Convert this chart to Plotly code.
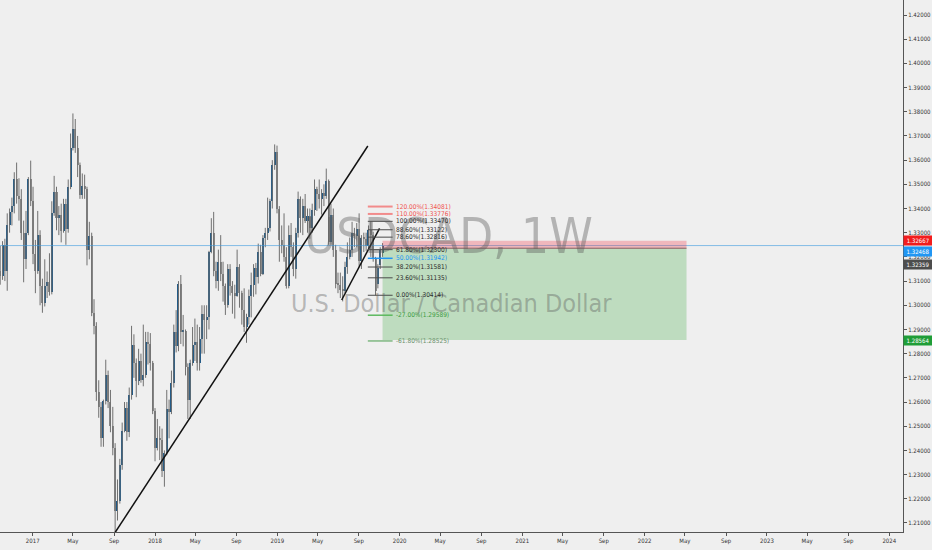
import plotly.graph_objects as go
import pandas as pd

# ---------------- data (weekly USDCAD) ----------------
first_week = "2016-09-19"

opens = [1.3220, 1.3140, 1.3120, 1.3250, 1.3140, 1.3330, 1.3385, 1.3410, 1.3520, 1.3450,
         1.3440, 1.3300, 1.3190, 1.3300, 1.3520, 1.3430, 1.3210, 1.3140, 1.3290, 1.3080,
         1.3010, 1.3080, 1.3095, 1.3055, 1.3380, 1.3470, 1.3360, 1.3375, 1.3305, 1.3420,
         1.3315, 1.3490, 1.3650, 1.3730, 1.3650, 1.3580, 1.3455, 1.3495, 1.3480, 1.3230,
         1.3285, 1.2970, 1.2915, 1.2640, 1.2580, 1.2450, 1.2605, 1.2710, 1.2600, 1.2500,
         1.2410, 1.2150, 1.2190, 1.2340, 1.2480, 1.2575, 1.2475, 1.2630, 1.2835, 1.2760,
         1.2685, 1.2770, 1.2690, 1.2710, 1.2850, 1.2840, 1.2760, 1.2565, 1.2410, 1.2450,
         1.2445, 1.2315, 1.2390, 1.2570, 1.2560, 1.2680, 1.2890, 1.2830, 1.3090, 1.2890,
         1.2895, 1.2745, 1.2610, 1.2760, 1.2835, 1.2850, 1.2760, 1.2860, 1.2965, 1.2940,
         1.2950, 1.3220, 1.3300, 1.3140, 1.3100, 1.3180, 1.3130, 1.3080, 1.3000, 1.3150,
         1.3080, 1.3050, 1.3040, 1.3160, 1.3050, 1.2980, 1.2910, 1.2950, 1.3040, 1.3085,
         1.3155, 1.3115, 1.3220, 1.3130, 1.3280, 1.3300, 1.3320, 1.3430, 1.3580, 1.3635,
         1.3400, 1.3270, 1.3250, 1.3200, 1.3080, 1.3290, 1.3240, 1.3150, 1.3300, 1.3440,
         1.3360, 1.3410, 1.3350, 1.3370, 1.3320, 1.3395, 1.3480, 1.3460, 1.3440, 1.3465,
         1.3450, 1.3515, 1.3260, 1.3375, 1.3230, 1.3090, 1.3085, 1.3065, 1.3060, 1.3160,
         1.3200, 1.3230, 1.3300, 1.3285, 1.3315, 1.3185, 1.3280, 1.3275, 1.3245, 1.3310,
         1.3290, 1.3190, 1.3088, 1.3166, 1.3216]

highs = [1.3260, 1.3245, 1.3265, 1.3275, 1.3380, 1.3400, 1.3445, 1.3550, 1.3590, 1.3525,
         1.3480, 1.3350, 1.3390, 1.3530, 1.3598, 1.3490, 1.3270, 1.3390, 1.3310, 1.3110,
         1.3190, 1.3140, 1.3215, 1.3430, 1.3535, 1.3490, 1.3410, 1.3420, 1.3440, 1.3440,
         1.3520, 1.3710, 1.3793, 1.3770, 1.3700, 1.3590, 1.3545, 1.3540, 1.3490, 1.3345,
         1.3300, 1.3025, 1.2930, 1.2690, 1.2600, 1.2610, 1.2775, 1.2730, 1.2650, 1.2580,
         1.2430, 1.2280, 1.2365, 1.2515, 1.2600, 1.2600, 1.2660, 1.2915, 1.2880, 1.2780,
         1.2820, 1.2800, 1.2920, 1.2890, 1.2890, 1.2885, 1.2770, 1.2575, 1.2530, 1.2500,
         1.2490, 1.2400, 1.2650, 1.2610, 1.2730, 1.2920, 1.2980, 1.3100, 1.3125, 1.2960,
         1.2900, 1.2760, 1.2775, 1.2910, 1.2945, 1.2920, 1.2910, 1.3000, 1.3000, 1.3000,
         1.3225, 1.3360, 1.3386, 1.3180, 1.3230, 1.3290, 1.3180, 1.3090, 1.3170, 1.3170,
         1.3100, 1.3085, 1.3230, 1.3170, 1.3060, 1.3070, 1.2965, 1.3065, 1.3135, 1.3170,
         1.3175, 1.3255, 1.3250, 1.3290, 1.3320, 1.3445, 1.3440, 1.3600, 1.3665, 1.3660,
         1.3410, 1.3330, 1.3380, 1.3240, 1.3330, 1.3340, 1.3260, 1.3320, 1.3470, 1.3450,
         1.3440, 1.3460, 1.3400, 1.3400, 1.3420, 1.3520, 1.3490, 1.3520, 1.3480, 1.3500,
         1.3565, 1.3520, 1.3420, 1.3400, 1.3250, 1.3135, 1.3135, 1.3120, 1.3180, 1.3260,
         1.3280, 1.3345, 1.3320, 1.3340, 1.3380, 1.3290, 1.3300, 1.3300, 1.3330, 1.3347,
         1.3304, 1.3200, 1.3170, 1.3240, 1.3257]

lows = [1.3120, 1.3085, 1.3105, 1.3100, 1.3060, 1.3300, 1.3330, 1.3380, 1.3420, 1.3350,
        1.3270, 1.3095, 1.3150, 1.3290, 1.3410, 1.3170, 1.3050, 1.3130, 1.3000, 1.2969,
        1.2995, 1.3030, 1.3040, 1.3045, 1.3370, 1.3310, 1.3290, 1.3260, 1.3300, 1.3250,
        1.3300, 1.3480, 1.3640, 1.3630, 1.3530, 1.3440, 1.3440, 1.3440, 1.3165, 1.3190,
        1.2955, 1.2880, 1.2605, 1.2535, 1.2415, 1.2415, 1.2590, 1.2575, 1.2475, 1.2380,
        1.2061, 1.2110, 1.2180, 1.2320, 1.2475, 1.2440, 1.2455, 1.2610, 1.2700, 1.2620,
        1.2670, 1.2680, 1.2665, 1.2700, 1.2755, 1.2730, 1.2550, 1.2355, 1.2400, 1.2360,
        1.2290, 1.2250, 1.2380, 1.2450, 1.2550, 1.2660, 1.2805, 1.2810, 1.2840, 1.2830,
        1.2710, 1.2530, 1.2530, 1.2750, 1.2770, 1.2730, 1.2730, 1.2800, 1.2800, 1.2860,
        1.2900, 1.3215, 1.3120, 1.3070, 1.3060, 1.3100, 1.3015, 1.2960, 1.2990, 1.3040,
        1.2965, 1.2945, 1.3035, 1.2990, 1.2920, 1.2890, 1.2845, 1.2920, 1.2950, 1.3035,
        1.3045, 1.3090, 1.3120, 1.3125, 1.3240, 1.3270, 1.3305, 1.3400, 1.3560, 1.3380,
        1.3180, 1.3215, 1.3180, 1.3069, 1.3070, 1.3200, 1.3120, 1.3110, 1.3280, 1.3300,
        1.3290, 1.3340, 1.3300, 1.3275, 1.3300, 1.3370, 1.3390, 1.3400, 1.3375, 1.3410,
        1.3440, 1.3250, 1.3250, 1.3200, 1.3070, 1.3050, 1.3030, 1.3016, 1.3050, 1.3130,
        1.3190, 1.3200, 1.3240, 1.3240, 1.3160, 1.3150, 1.3220, 1.3225, 1.3235, 1.3200,
        1.3180, 1.3041, 1.3070, 1.3150, 1.3200]

closes = [1.3140, 1.3120, 1.3250, 1.3140, 1.3330, 1.3385, 1.3410, 1.3520, 1.3450, 1.3440,
          1.3300, 1.3190, 1.3300, 1.3520, 1.3430, 1.3210, 1.3140, 1.3290, 1.3080, 1.3010,
          1.3080, 1.3095, 1.3055, 1.3380, 1.3470, 1.3360, 1.3375, 1.3305, 1.3420, 1.3315,
          1.3490, 1.3650, 1.3730, 1.3650, 1.3580, 1.3455, 1.3495, 1.3480, 1.3230, 1.3285,
          1.2970, 1.2915, 1.2640, 1.2580, 1.2450, 1.2605, 1.2710, 1.2600, 1.2500, 1.2410,
          1.2150, 1.2190, 1.2340, 1.2480, 1.2575, 1.2475, 1.2630, 1.2835, 1.2760, 1.2685,
          1.2770, 1.2690, 1.2710, 1.2850, 1.2840, 1.2760, 1.2565, 1.2410, 1.2450, 1.2445,
          1.2315, 1.2390, 1.2570, 1.2560, 1.2680, 1.2890, 1.2830, 1.3090, 1.2890, 1.2895,
          1.2745, 1.2610, 1.2760, 1.2835, 1.2850, 1.2760, 1.2860, 1.2965, 1.2940, 1.2950,
          1.3220, 1.3300, 1.3140, 1.3100, 1.3180, 1.3130, 1.3080, 1.3000, 1.3150, 1.3080,
          1.3050, 1.3040, 1.3160, 1.3050, 1.2980, 1.2910, 1.2950, 1.3040, 1.3085, 1.3155,
          1.3115, 1.3220, 1.3130, 1.3280, 1.3300, 1.3320, 1.3430, 1.3580, 1.3635, 1.3400,
          1.3270, 1.3250, 1.3200, 1.3080, 1.3290, 1.3240, 1.3150, 1.3300, 1.3440, 1.3360,
          1.3410, 1.3350, 1.3370, 1.3320, 1.3395, 1.3480, 1.3460, 1.3440, 1.3465, 1.3450,
          1.3515, 1.3260, 1.3375, 1.3230, 1.3090, 1.3085, 1.3065, 1.3060, 1.3160, 1.3200,
          1.3230, 1.3300, 1.3285, 1.3315, 1.3185, 1.3280, 1.3275, 1.3245, 1.3310, 1.3290,
          1.3190, 1.3060, 1.3154, 1.3229, 1.3247]

# x-axis tick labels
tick_dates = ["2017-01-01", "2017-05-01", "2017-09-01", "2018-01-01", "2018-05-01", "2018-09-01",
              "2019-01-01", "2019-05-01", "2019-09-01", "2020-01-01", "2020-05-01", "2020-09-01",
              "2021-01-01", "2021-05-01", "2021-09-01", "2022-01-01", "2022-05-01", "2022-09-01",
              "2023-01-01", "2023-05-01", "2023-09-01", "2024-01-01"]
tick_labels = ["2017", "May", "Sep", "2018", "May", "Sep", "2019", "May", "Sep", "2020", "May", "Sep",
               "2021", "May", "Sep", "2022", "May", "Sep", "2023", "May", "Sep", "2024"]

# fibonacci extension drawing
fib_ratios = [1.20, 1.10, 1.00, 0.886, 0.786, 0.618, 0.50, 0.382, 0.236, 0.0, -0.27, -0.618]
fib_values = [1.34081, 1.33776, 1.33470, 1.33122, 1.32816, 1.32300, 1.31942, 1.31581, 1.31135,
              1.30414, 1.29589, 1.28525]
fib_colors = ["#f28b8b", "#f28b8b", "#4a4a4a", "#4a4a4a", "#4a4a4a", "#4a4a4a", "#2196f3",
              "#4a4a4a", "#4a4a4a", "#4a4a4a", "#5cb85f", "#7fb882"]
fib_text_colors = ["#ef5350", "#ef5350", "#2a2a2a", "#2a2a2a", "#2a2a2a", "#2a2a2a", "#2196f3",
                   "#2a2a2a", "#2a2a2a", "#2a2a2a", "#3d9b41", "#6a8f6c"]
fib_x = ["2019-09-28", "2019-12-11"]

# trend lines (start date, end date, start price, end price)
trend_dates = [["2017-09-04", "2019-09-28"], ["2019-07-12", "2019-11-02"]]
trend_prices = [[1.2061, 1.36585], [1.30218, 1.33182]]

# short position tool
pos_dates = ["2019-11-11", "2022-05-06"]
pos_entry = 1.32359
pos_stop = 1.32667
pos_target = 1.28564
last_price = 1.32468

# ---------------- figure ----------------
dates = pd.date_range(first_week, periods=len(closes), freq="W-MON")
FONT = "DejaVu Sans Condensed, DejaVu Sans, sans-serif"
BG = "#efefef"

fig = go.Figure()

# wicks
wx, wy = [], []
for d, h, l in zip(dates, highs, lows):
    wx += [d, d, None]
    wy += [l, h, None]
fig.add_trace(go.Scatter(x=wx, y=wy, mode="lines", line=dict(color="#707070", width=1),
                         hoverinfo="skip", showlegend=False))

# bodies
base = [min(o, c) for o, c in zip(opens, closes)]
height = [max(abs(c - o), 0.0003) for o, c in zip(opens, closes)]
cols = ["#205b89" if c >= o else "#8a8a8a" for o, c in zip(opens, closes)]
fig.add_trace(go.Bar(x=dates, y=height, base=base, width=6 * 86400000,
                     marker=dict(color=cols, line=dict(width=0)),
                     hoverinfo="skip", showlegend=False))

shapes = []
annotations = []

# watermark
annotations.append(dict(text="USDCAD, 1W", xref="paper", yref="paper", x=0.497, y=0.556,
                        xanchor="center", yanchor="middle", showarrow=False,
                        font=dict(family=FONT, size=49, color="rgba(90,90,90,0.40)")))
annotations.append(dict(text="U.S. Dollar / Canadian Dollar", xref="paper", yref="paper",
                        x=0.5, y=0.43, xanchor="center", yanchor="middle", showarrow=False,
                        font=dict(family=FONT, size=25, color="rgba(90,90,90,0.40)")))

# current price line
shapes.append(dict(type="line", xref="paper", yref="y", x0=0, x1=1, y0=last_price, y1=last_price,
                   line=dict(color="#3d9be0", width=1), opacity=0.6, layer="above"))

# short position
shapes.append(dict(type="rect", xref="x", yref="y", x0=pos_dates[0], x1=pos_dates[1],
                   y0=pos_entry, y1=pos_stop, fillcolor="rgba(242,54,69,0.30)",
                   line=dict(width=0), layer="above"))
shapes.append(dict(type="rect", xref="x", yref="y", x0=pos_dates[0], x1=pos_dates[1],
                   y0=pos_target, y1=pos_entry, fillcolor="rgba(76,175,80,0.30)",
                   line=dict(width=0), layer="above"))
shapes.append(dict(type="line", xref="x", yref="y", x0=pos_dates[0], x1=pos_dates[1],
                   y0=pos_entry, y1=pos_entry, line=dict(color="#8a5a5c", width=1), layer="above"))

# trend lines
for (d0, d1), (p0, p1) in zip(trend_dates, trend_prices):
    shapes.append(dict(type="line", xref="x", yref="y", x0=d0, x1=d1, y0=p0, y1=p1,
                       line=dict(color="#111111", width=1.5), layer="above"))

# fib levels
for r, v, lc, tc in zip(fib_ratios, fib_values, fib_colors, fib_text_colors):
    w = 2 if r > 1.0 else (1.5 if r in (0.5, -0.27, -0.618) else 1)
    shapes.append(dict(type="line", xref="x", yref="y", x0=fib_x[0], x1=fib_x[1], y0=v, y1=v,
                       line=dict(color=lc, width=w), layer="above"))
    annotations.append(dict(text=f"{r * 100:.2f}%({v:.5f})", xref="x", yref="y", x=fib_x[1], y=v,
                            xanchor="left", yanchor="middle", xshift=1, showarrow=False,
                            font=dict(family=FONT, size=6.5, color=tc)))

# right axis price labels
for val, bg, shift in [(pos_stop, "#f21d1d", 0), (last_price, "#2196f3", -6),
                       (pos_entry, "#4d4d4d", -16), (pos_target, "#1f9d37", 0)]:
    annotations.append(dict(text=f"{val:.5f}", xref="paper", yref="y", x=1, y=val, yshift=shift,
                            xanchor="left", yanchor="middle", showarrow=False, align="center",
                            width=28, height=9, bgcolor=bg, borderpad=0,
                            font=dict(family=FONT, size=6, color="#ffffff")))

fig.update_layout(
    width=932, height=550,
    margin=dict(l=0, r=29, t=0, b=18),
    paper_bgcolor=BG, plot_bgcolor=BG,
    barmode="overlay", bargap=0,
    showlegend=False, hovermode=False,
    shapes=shapes, annotations=annotations,
    xaxis=dict(type="date", range=["2016-09-25 10:00", "2024-02-11"],
               tickvals=tick_dates, ticktext=tick_labels, showgrid=False, zeroline=False,
               showline=True, linecolor="#555555", linewidth=1, ticks="outside", ticklen=3,
               tickcolor="#555555", tickfont=dict(family=FONT, size=6, color="#333333"),
               fixedrange=True),
    yaxis=dict(side="right", range=[1.20627, 1.42620], tick0=1.21, dtick=0.01, tickformat=".5f",
               showgrid=False, zeroline=False, showline=True, linecolor="#555555", linewidth=1,
               ticks="outside", ticklen=3, tickcolor="#555555",
               tickfont=dict(family=FONT, size=6, color="#333333"), fixedrange=True),
)

fig.write_html("out.html", config={"displayModeBar": False},
               post_script="document.body.style.margin='0';document.body.style.background='#efefef';")
